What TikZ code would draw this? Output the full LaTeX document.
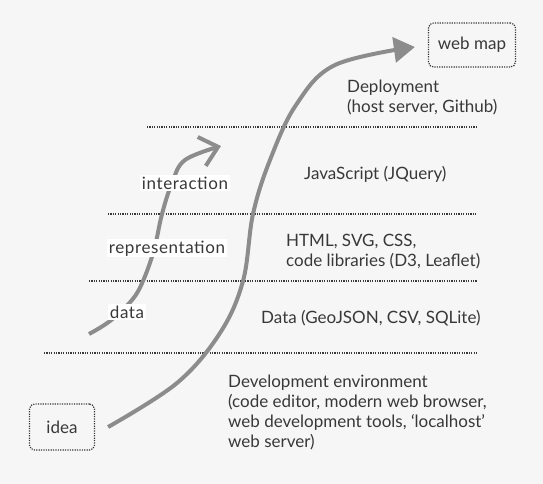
\documentclass[tikz,border=0pt]{standalone}
\usepackage{fontspec}
\setmainfont{Lato}
\newfontfamily\spacedfont[LetterSpace=3.5]{Lato}
\usetikzlibrary{arrows.meta}
\definecolor{bggray}{HTML}{F6F6F6}
\definecolor{arrowgray}{HTML}{8C8C8C}
\definecolor{txtgray}{HTML}{383838}

\begin{document}
\begin{tikzpicture}[x=1pt, y=-1pt, font=\fontsize{17}{20}\selectfont, text=txtgray,
    sep/.style={draw=txtgray, line width=1.2pt, dash pattern=on 1.2pt off 1.2pt},
    endbox/.style={draw=txtgray, line width=1.2pt, dash pattern=on 1.2pt off 1.2pt, rounded corners=5pt, inner sep=0pt},
    stagelabel/.style={anchor=base, fill=white, inner sep=1.5pt, font=\spacedfont\fontsize{17}{20}\selectfont},
    tools/.style={anchor=base west, align=left, inner sep=0pt},
    flow/.style={arrowgray, line width=4pt}]
        % Background
        \fill[bggray] (0,0) rectangle (543,484);
        \useasboundingbox (0,0) rectangle (543,484);
        % Start and goal
        \node[endbox, minimum width=65pt, minimum height=46pt] (idea) at (62,427) {idea};
        \node[endbox, minimum width=87pt, minimum height=44pt] (webmap) at (472,45) {web map};
        % Layers
        \foreach \y/\xa in {127/147, 214/108, 281/89, 353/44}
          \draw[sep] (\xa,\y) -- (477,\y);
        % Tools per layer (base = last line)
        \node[tools] (deploy) at (347,113) {Deployment\\(host server, Github)};
        \node[tools] (js) at (304,179) {JavaScript (JQuery)};
        \node[tools] (html) at (286,266) {HTML, SVG, CSS,\\code libraries (D3, Leaflet)};
        \node[tools] (datatools) at (261,323) {Data (GeoJSON, CSV, SQLite)};
        \node[tools] (devenv) at (228,447) {Development environment\\(code editor, modern web browser,\\web development tools, `localhost'\\web server)};
        % Main arrow
        \coordinate (bigstart) at ([xshift=13pt]idea.east);
        \coordinate (bigend) at ([xshift=-13pt, yshift=-2pt]webmap.west);
        \draw[flow, -{Triangle[length=21pt, width=25pt]}]
          plot[smooth, tension=0.6] coordinates {(bigstart) (177,383) (220,333) (243,281)
            (253,214) (270,160) (296,105) (335,65) (bigend)};
        % Inner loop
        \coordinate (loopstart) at (89,334);
        \coordinate (loopend) at (221,146);
        \draw[flow, -{Straight Barb[length=17pt, width=30pt]}]
          plot[smooth, tension=0.6] coordinates {(loopstart) (110,321) (132,300) (143,281)
            (154,250) (162,214) (172,183) (185,160) (loopend)};
        % Stage labels
        \node[stagelabel] (interaction) at (185,189) {interaction};
        \node[stagelabel] (representation) at (167,253) {representation};
        \node[stagelabel] (data) at (127,318) {data};
      \end{tikzpicture}
\end{document}
